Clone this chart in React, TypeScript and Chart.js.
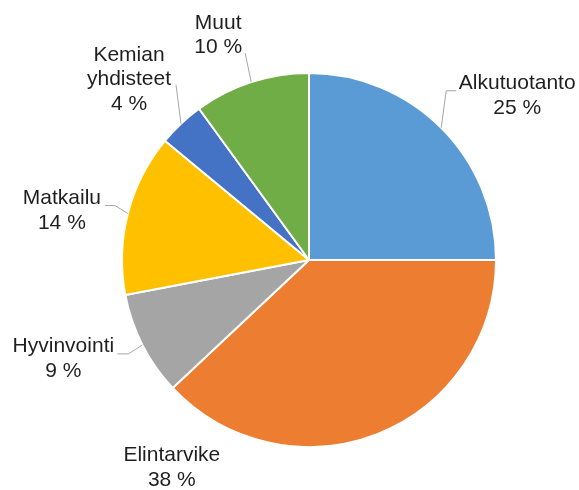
import React, { useEffect, useRef } from 'react';
import { Chart, registerables } from 'chart.js';

Chart.register(...registerables);

const categories: (string | string[])[] = ['Alkutuotanto', 'Elintarvike', 'Hyvinvointi', 'Matkailu', ['Kemian', 'yhdisteet'], 'Muut'];
const shares = [25, 38, 9, 14, 4, 10];
const colors = ['#5B9BD5', '#ED7D31', '#A5A5A5', '#FFC000', '#4472C4', '#70AD47'];

// label placement relative to slice anchor (outer edge at mid-angle)
const labelPlacement = [
  { dx: 76, dy: -32, leader: [[-71, -5], [-61, -5]] },
  { dx: -206, dy: 34, leader: [] },
  { dx: -79, dy: 14, leader: [[65, -5], [54, -5]] },
  { dx: -66, dy: -3, leader: [[53, -5], [43, -5]] },
  { dx: -52, dy: -44, leader: [[47, 5]] },
  { dx: -33, dy: -47, leader: [[27, 18]] },
];

const labelPlugin = {
  id: 'outerLabels',
  afterDraw(chart: any) {
    const ctx = chart.ctx;
    const meta = chart.getDatasetMeta(0);
    const total = shares.reduce((a, b) => a + b, 0);
    ctx.save();
    ctx.font = '21px "Liberation Sans", Arial, sans-serif';
    ctx.textAlign = 'center';
    ctx.textBaseline = 'middle';
    meta.data.forEach((arc: any, i: number) => {
      const p = arc.getProps(['x', 'y', 'startAngle', 'endAngle', 'outerRadius'], true);
      const mid = (p.startAngle + p.endAngle) / 2;
      const ax = p.x + Math.cos(mid) * p.outerRadius;
      const ay = p.y + Math.sin(mid) * p.outerRadius;
      const pl = labelPlacement[i];
      const cx = ax + pl.dx;
      const cy = ay + pl.dy;
      if (pl.leader.length) {
        ctx.strokeStyle = '#A6A6A6';
        ctx.lineWidth = 1;
        ctx.beginPath();
        ctx.moveTo(ax, ay);
        pl.leader.forEach((pt: number[]) => ctx.lineTo(cx + pt[0], cy + pt[1]));
        ctx.stroke();
      }
      const cat = categories[i];
      const lines = (Array.isArray(cat) ? cat : [cat]).concat([Math.round((shares[i] / total) * 100) + ' %']);
      const lh = 24.5;
      const top = cy - ((lines.length - 1) * lh) / 2;
      ctx.fillStyle = '#1F1F1F';
      lines.forEach((t, k) => ctx.fillText(t, cx, top + k * lh));
    });
    ctx.restore();
  },
};

export default function App() {
  const ref = useRef<HTMLCanvasElement>(null);
  useEffect(() => {
    const chart = new Chart(ref.current!, {
      type: 'pie',
      data: {
        labels: categories as any,
        datasets: [
          {
            data: shares,
            backgroundColor: colors,
            borderColor: '#FFFFFF',
            borderWidth: 2,
          },
        ],
      },
      options: {
        animation: false,
        responsive: false,
        layout: { padding: { top: 72, bottom: 42, left: 121, right: 82 } },
        plugins: { legend: { display: false }, tooltip: { enabled: false } },
      },
      plugins: [labelPlugin],
    });
    return () => chart.destroy();
  }, []);
  return (
    <div style={{ position: 'fixed', left: 0, top: 0, width: 579, height: 490, background: '#fff' }}>
      <canvas ref={ref} width={579} height={490} style={{ width: 579, height: 490 }} />
    </div>
  );
}
